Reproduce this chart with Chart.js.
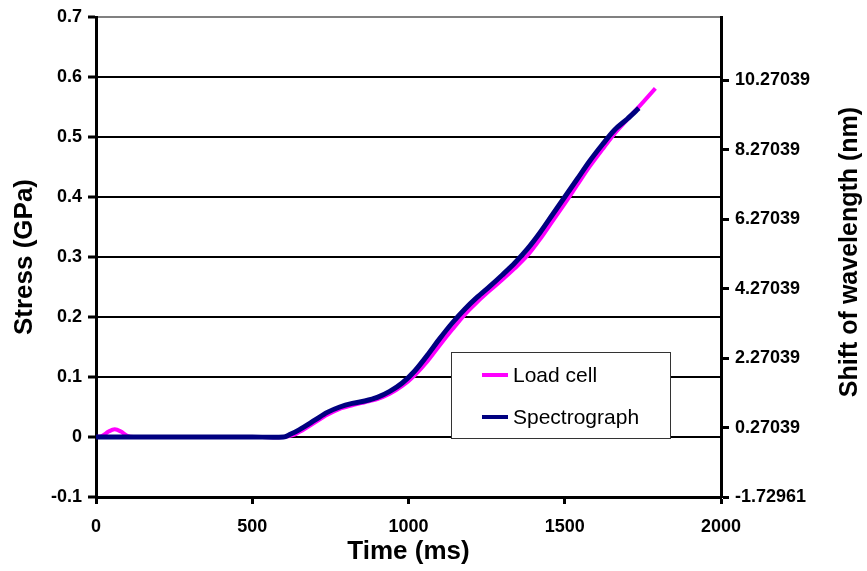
<!DOCTYPE html>
<html>
<head>
<meta charset="utf-8">
<script src="https://cdn.jsdelivr.net/npm/chart.js@4.4.1/dist/chart.umd.min.js"></script>
<style>
  html, body { margin: 0; padding: 0; background: #fff; }
  #wrap { width: 867px; height: 571px; }
</style>
</head>
<body>
<div id="wrap"><canvas id="stressChart" width="867" height="571"></canvas></div>
<script>
// ---- data ----
const loadTime = [0, 20, 40, 60, 80, 100, 120, 200, 300, 400, 500, 600, 630, 660, 700, 740, 780, 820, 860, 900, 940, 980,
  1020, 1060, 1100, 1140, 1180, 1220, 1260, 1300, 1340, 1380, 1420, 1460, 1500, 1540, 1580, 1620, 1660, 1700, 1740, 1790];
const loadStress = [0, 0.002, 0.009, 0.013, 0.009, 0.002, 0, 0, 0, 0, 0, 0, 0.003, 0.011, 0.024, 0.037, 0.047, 0.053, 0.058, 0.063, 0.072, 0.085,
  0.103, 0.126, 0.153, 0.179, 0.204, 0.225, 0.244, 0.262, 0.281, 0.302, 0.329, 0.359, 0.389, 0.42, 0.451, 0.479, 0.506, 0.529, 0.552, 0.581];

const specTime = [0, 100, 200, 300, 400, 500, 600, 620, 650, 700, 740, 780, 820, 860, 900, 940, 980,
  1020, 1060, 1100, 1140, 1180, 1220, 1260, 1300, 1340, 1380, 1420, 1460, 1500, 1540, 1580, 1620, 1660, 1700, 1737];
const specStress = [0, 0, 0, 0, 0, 0, 0, 0.004, 0.012, 0.028, 0.041, 0.05, 0.056, 0.06, 0.066, 0.076, 0.09,
  0.11, 0.136, 0.164, 0.19, 0.213, 0.233, 0.251, 0.27, 0.29, 0.313, 0.34, 0.37, 0.4, 0.43, 0.46, 0.487, 0.512, 0.53, 0.548];

const xTickLabels = ['0', '500', '1000', '1500', '2000'];
const leftTickLabels = ['-0.1', '0', '0.1', '0.2', '0.3', '0.4', '0.5', '0.6', '0.7'];
const rightTickValues = [-1.72961, 0.27039, 2.27039, 4.27039, 6.27039, 8.27039, 10.27039];
const rightTickLabels = ['-1.72961', '0.27039', '2.27039', '4.27039', '6.27039', '8.27039', '10.27039'];
const rightMin = -1.72961;
const rightMax = 12.09;

const seriesNames = ['Load cell', 'Spectrograph'];
const rightTitle = 'Shift of wavelength (nm)';

// ---- helpers ----
function toPoints(xs, ys) {
  return xs.map((x, i) => ({ x: x, y: ys[i] }));
}

const FONT = '"Liberation Sans", Arial, sans-serif';

// legend box floating inside the plot (like the Excel original)
const boxLegend = {
  id: 'boxLegend',
  afterDraw(chart, args, opts) {
    const c = chart.ctx;
    const x = opts.left, y = opts.top, w = opts.width, h = opts.height;
    c.save();
    c.fillStyle = '#fff';
    c.fillRect(x, y, w, h);
    c.strokeStyle = '#333';
    c.lineWidth = 1;
    c.strokeRect(x + 0.5, y + 0.5, w, h);
    c.font = '21px ' + FONT;
    c.textBaseline = 'middle';
    chart.data.datasets.forEach((ds, i) => {
      const cy = y + opts.firstRow + i * opts.rowGap;
      c.strokeStyle = ds.borderColor;
      c.lineWidth = 4;
      c.beginPath();
      c.moveTo(x + 31, cy);
      c.lineTo(x + 57, cy);
      c.stroke();
      c.fillStyle = '#000';
      c.fillText(ds.label, x + 62, cy + 1);
    });
    c.restore();
  }
};

// right title reads bottom-to-top in the original, Chart.js turns it the other way
const rightTitlePlugin = {
  id: 'rightTitle',
  afterDraw(chart, args, opts) {
    const c = chart.ctx;
    c.save();
    c.translate(opts.x, opts.y);
    c.rotate(-Math.PI / 2);
    c.font = 'bold 25px ' + FONT;
    c.fillStyle = '#000';
    c.textAlign = 'center';
    c.textBaseline = 'middle';
    c.fillText(rightTitle, 0, 0);
    c.restore();
  }
};

const ctx = document.getElementById('stressChart').getContext('2d');

const stressChart = new Chart(ctx, {
  type: 'scatter',
  data: {
    datasets: [
      {
        label: seriesNames[0],
        data: toPoints(loadTime, loadStress),
        showLine: true,
        borderColor: '#FF00FF',
        backgroundColor: '#FF00FF',
        borderWidth: 4,
        pointRadius: 0,
        tension: 0.3,
        order: 1,
        yAxisID: 'y'
      },
      {
        label: seriesNames[1],
        data: toPoints(specTime, specStress),
        showLine: true,
        borderColor: '#000080',
        backgroundColor: '#000080',
        borderWidth: 5,
        pointRadius: 0,
        tension: 0.3,
        order: 0,
        yAxisID: 'y'
      }
    ]
  },
  options: {
    responsive: false,
    animation: false,
    devicePixelRatio: 1,
    layout: { padding: { top: 17, left: 0, right: 0, bottom: 0 } },
    plugins: {
      legend: { display: false },
      tooltip: { enabled: false },
      boxLegend: { left: 451, top: 352, width: 219, height: 86, firstRow: 23, rowGap: 42 },
      rightTitle: { x: 850, y: 252 }
    },
    scales: {
      x: {
        type: 'linear',
        min: 0, max: 2000,
        afterFit: s => { s.height = 74; },
        border: { display: true, color: '#000', width: 3 },
        grid: { drawOnChartArea: false, drawTicks: true, tickLength: 7, tickColor: '#000', tickWidth: 3 },
        ticks: {
          stepSize: 500,
          padding: 12,
          color: '#000',
          font: { family: FONT, size: 18, weight: 'bold' },
          callback: (v, i) => xTickLabels[i]
        },
        title: {
          display: true, text: 'Time (ms)', color: '#000',
          font: { family: FONT, size: 26, weight: 'bold' },
          padding: { top: 0, bottom: 4 }
        }
      },
      y: {
        type: 'linear',
        position: 'left',
        min: -0.1, max: 0.7,
        afterFit: s => { s.width = 96; },
        border: { display: true, color: '#000', width: 3 },
        grid: {
          color: c => (c.tick && c.tick.value > 0.69 ? '#808080' : '#000'),
          lineWidth: 2,
          drawTicks: true, tickLength: 8, tickColor: '#000', tickWidth: 3
        },
        ticks: {
          stepSize: 0.1,
          padding: 6,
          color: '#000',
          font: { family: FONT, size: 18, weight: 'bold' },
          callback: (v, i) => leftTickLabels[i]
        },
        title: {
          display: true, text: 'Stress (GPa)', color: '#000',
          font: { family: FONT, size: 26, weight: 'bold' },
          padding: { top: 9, bottom: 0 }
        }
      },
      y2: {
        type: 'linear',
        position: 'right',
        min: rightMin, max: rightMax,
        afterFit: s => { s.width = 146; },
        afterBuildTicks: s => { s.ticks = rightTickValues.map(v => ({ value: v })); },
        border: { display: true, color: '#000', width: 3 },
        grid: { drawOnChartArea: false, drawTicks: true, tickLength: 8, tickColor: '#000', tickWidth: 3 },
        ticks: {
          padding: 6,
          color: '#000',
          font: { family: FONT, size: 18, weight: 'bold' },
          callback: (v, i) => rightTickLabels[i]
        },
        title: { display: false }
      }
    }
  },
  plugins: [boxLegend, rightTitlePlugin]
});
</script>
</body>
</html>
